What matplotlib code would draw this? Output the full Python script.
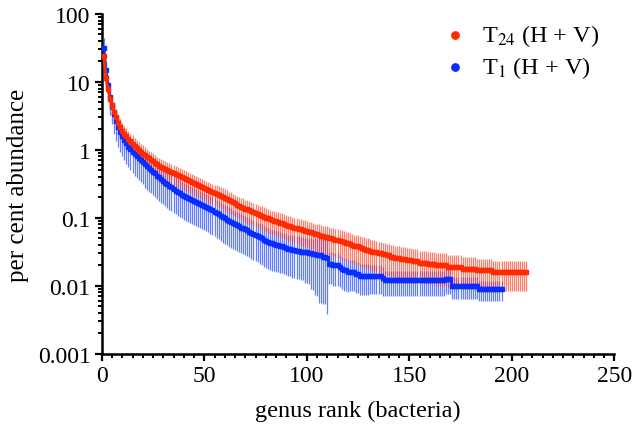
import numpy as np
import matplotlib
matplotlib.use("Agg")
import matplotlib.pyplot as plt
from matplotlib.ticker import MultipleLocator, LogLocator, NullFormatter

plt.rcParams['font.family'] = ['Liberation Serif', 'DejaVu Serif']
plt.rcParams['mathtext.fontset'] = 'stix'

# per cent abundance by genus rank, T24 (H + V)
red_vals = [
    24, 11.5, 8.0, 5.6, 4.5, 3.6, 3.0, 2.5, 2.15, 1.9,
    1.72, 1.58, 1.45, 1.34, 1.24, 1.15, 1.07, 1.0, 0.94, 0.88,
    0.83, 0.79, 0.75, 0.71, 0.68, 0.645, 0.615, 0.585, 0.56, 0.54,
    0.52, 0.50, 0.485, 0.47, 0.455, 0.44, 0.425, 0.41, 0.395, 0.38,
    0.37, 0.357, 0.345, 0.333, 0.322, 0.311, 0.30, 0.29, 0.281, 0.272,
    0.263, 0.255, 0.247, 0.239, 0.231, 0.224, 0.217, 0.21, 0.203, 0.197,
    0.188, 0.181, 0.175, 0.169, 0.163, 0.157, 0.152, 0.147, 0.142, 0.137,
    0.133, 0.129, 0.125, 0.121, 0.117, 0.113, 0.11, 0.107, 0.104, 0.101,
    0.098, 0.095, 0.093, 0.091, 0.089, 0.087, 0.085, 0.083, 0.081, 0.079,
    0.077, 0.075, 0.073, 0.071, 0.07, 0.069, 0.068, 0.066, 0.065, 0.064,
    0.062, 0.061, 0.06, 0.058, 0.057, 0.056, 0.055, 0.054, 0.053, 0.052,
    0.051, 0.05, 0.049, 0.048, 0.047, 0.046, 0.045, 0.044, 0.043, 0.042,
    0.041, 0.04, 0.039, 0.038, 0.038, 0.037, 0.036, 0.035, 0.034, 0.034,
    0.033, 0.032, 0.032, 0.031, 0.03, 0.03, 0.029, 0.029, 0.028, 0.028,
    0.027, 0.027, 0.026, 0.026, 0.026, 0.025, 0.025, 0.025, 0.024, 0.024,
    0.024, 0.023, 0.023, 0.023, 0.022, 0.022, 0.022, 0.022, 0.021, 0.021,
    0.021, 0.021, 0.02, 0.02, 0.02, 0.02, 0.02, 0.02, 0.019, 0.019,
    0.019, 0.019, 0.019, 0.019, 0.019, 0.018, 0.018, 0.018, 0.018, 0.018,
    0.018, 0.018, 0.017, 0.017, 0.017, 0.017, 0.017, 0.017, 0.017, 0.017,
    0.016, 0.016, 0.016, 0.016, 0.016, 0.016, 0.016, 0.016, 0.016, 0.016,
    0.016, 0.016, 0.016, 0.016, 0.016, 0.016, 0.016,
]
# error bar size, per cent of the value
red_err_pct = [
    30, 25, 28, 30, 30, 32, 30, 30, 32, 30,
    30, 32, 30, 30, 32, 30, 30, 30, 32, 32,
    32, 30, 30, 32, 32, 30, 30, 32, 32, 30,
    30, 32, 32, 30, 30, 32, 32, 30, 32, 32,
    32, 32, 33, 33, 32, 32, 33, 33, 33, 33,
    33, 34, 34, 33, 33, 34, 34, 34, 34, 35,
    35, 35, 35, 34, 34, 35, 35, 35, 36, 36,
    36, 36, 36, 37, 37, 37, 37, 38, 38, 38,
    38, 38, 38, 38, 39, 39, 39, 40, 40, 40,
    40, 40, 40, 40, 41, 41, 41, 41, 42, 42,
    42, 42, 42, 42, 43, 43, 43, 43, 44, 44,
    44, 44, 44, 45, 45, 45, 45, 46, 46, 46,
    46, 46, 46, 47, 47, 47, 47, 47, 48, 48,
    48, 48, 48, 48, 48, 48, 49, 49, 49, 49,
    49, 49, 49, 50, 50, 50, 50, 50, 50, 50,
    50, 50, 50, 50, 50, 50, 50, 50, 50, 50,
    50, 50, 50, 50, 50, 50, 50, 50, 50, 50,
    50, 50, 50, 50, 50, 50, 50, 50, 50, 50,
    48, 48, 48, 48, 48, 48, 48, 48, 48, 48,
    47, 47, 47, 47, 47, 47, 47, 47, 47, 47,
    47, 47, 47, 47, 47, 47, 47,
]

# T1 (H + V)
blue_vals = [
    32, 15, 9.0, 6.0, 4.4, 3.4, 2.7, 2.2, 1.85, 1.6,
    1.4, 1.25, 1.12, 1.02, 0.94, 0.87, 0.81, 0.75, 0.70, 0.66,
    0.62, 0.58, 0.54, 0.51, 0.48, 0.45, 0.42, 0.395, 0.37, 0.35,
    0.33, 0.31, 0.295, 0.28, 0.265, 0.25, 0.24, 0.23, 0.22, 0.21,
    0.202, 0.195, 0.188, 0.182, 0.176, 0.17, 0.165, 0.16, 0.155, 0.15,
    0.145, 0.14, 0.135, 0.13, 0.124, 0.118, 0.113, 0.108, 0.103, 0.098,
    0.094, 0.09, 0.087, 0.084, 0.081, 0.078, 0.075, 0.072, 0.07, 0.068,
    0.066, 0.063, 0.06, 0.058, 0.056, 0.054, 0.052, 0.05, 0.048, 0.046,
    0.044, 0.043, 0.042, 0.041, 0.04, 0.04, 0.039, 0.038, 0.037, 0.036,
    0.035, 0.035, 0.034, 0.034, 0.033, 0.033, 0.032, 0.032, 0.031, 0.031,
    0.03, 0.03, 0.029, 0.029, 0.028, 0.028, 0.028, 0.027, 0.027, 0.026,
    0.021, 0.021, 0.020, 0.020, 0.020, 0.019, 0.018, 0.017, 0.017, 0.016,
    0.016, 0.016, 0.016, 0.015, 0.015, 0.014, 0.014, 0.014, 0.014, 0.014,
    0.014, 0.014, 0.014, 0.014, 0.014, 0.014, 0.013, 0.012, 0.012, 0.012,
    0.012, 0.012, 0.012, 0.012, 0.012, 0.012, 0.012, 0.012, 0.012, 0.012,
    0.012, 0.012, 0.012, 0.012, 0.012, 0.012, 0.012, 0.012, 0.012, 0.012,
    0.012, 0.012, 0.012, 0.012, 0.012, 0.012, 0.012, 0.0125, 0.0125, 0.0125,
    0.0099, 0.0099, 0.0099, 0.0099, 0.0099, 0.0099, 0.0099, 0.0099, 0.0099, 0.0099,
    0.0099, 0.0099, 0.0099, 0.0089, 0.0089, 0.0089, 0.0089, 0.0089, 0.0089, 0.0089,
    0.0089, 0.0089, 0.0089, 0.0089, 0.0089,
]
blue_err_pct = [
    40, 35, 40, 45, 45, 50, 50, 50, 50, 50,
    50, 50, 50, 50, 52, 52, 52, 52, 52, 52,
    55, 55, 55, 55, 55, 55, 55, 55, 55, 55,
    55, 55, 55, 55, 55, 55, 55, 55, 55, 55,
    55, 55, 55, 55, 55, 56, 56, 56, 56, 56,
    56, 56, 57, 57, 57, 57, 57, 58, 58, 58,
    58, 58, 58, 58, 58, 58, 58, 58, 58, 58,
    58, 58, 58, 58, 58, 58, 60, 60, 60, 60,
    60, 60, 60, 60, 60, 60, 60, 60, 60, 60,
    60, 60, 62, 62, 62, 62, 62, 62, 64, 64,
    65, 70, 70, 75, 75, 80, 80, 80, 80, 85,
    50, 50, 50, 50, 50, 50, 50, 50, 50, 50,
    48, 48, 48, 48, 48, 48, 48, 48, 48, 48,
    45, 45, 45, 45, 45, 45, 45, 40, 40, 40,
    40, 40, 40, 40, 40, 40, 40, 40, 40, 40,
    40, 40, 40, 40, 40, 40, 40, 40, 40, 40,
    40, 40, 40, 40, 40, 40, 40, 40, 40, 40,
    35, 35, 35, 35, 35, 35, 35, 35, 35, 35,
    35, 35, 35, 32, 32, 32, 32, 32, 32, 32,
    32, 32, 32, 32, 32,
]

red_vals = np.array(red_vals)
blue_vals = np.array(blue_vals)
red_rank = np.arange(1, len(red_vals) + 1)
blue_rank = np.arange(1, len(blue_vals) + 1)
red_err = red_vals * np.array(red_err_pct) / 100
blue_err = blue_vals * np.array(blue_err_pct) / 100

fig = plt.figure(figsize=(6.32, 4.27), dpi=100)
ax = fig.add_axes([0.161, 0.169, 0.811, 0.796])

# error bars first, then the lines on top
ax.errorbar(blue_rank, blue_vals, yerr=blue_err, fmt='none', ecolor='#1f46ff',
            elinewidth=0.9, alpha=0.7, capsize=0, zorder=1)
ax.errorbar(red_rank, red_vals, yerr=red_err, fmt='none', ecolor='#ff3b1f',
            elinewidth=0.9, alpha=0.65, capsize=0, zorder=2)
ax.plot(blue_rank, blue_vals, color='#0a2cff', marker='s', ms=2.5, lw=2, zorder=3)
ax.plot(red_rank, red_vals, color='#ff2a00', marker='s', ms=2.5, lw=2, zorder=4)

ax.set_yscale('log')
ax.set_ylim(0.001, 100)
ax.set_xlim(0, 250)
ax.set_yticks([0.001, 0.01, 0.1, 1, 10, 100])
ax.set_yticklabels(['0.001', '0.01', '0.1', '1', '10', '100'])
ax.yaxis.set_minor_locator(LogLocator(base=10, subs=np.arange(2, 10)))
ax.yaxis.set_minor_formatter(NullFormatter())
ax.xaxis.set_major_locator(MultipleLocator(50))
ax.xaxis.set_minor_locator(MultipleLocator(5))

for side in ['top', 'right']:
    ax.spines[side].set_visible(False)
for side in ['left', 'bottom']:
    ax.spines[side].set_linewidth(1.8)
ax.tick_params(which='major', direction='out', length=5, width=1.6, labelsize=17, pad=3)
ax.tick_params(which='minor', direction='out', length=3, width=1.4)

ax.set_xlabel('genus rank (bacteria)', fontsize=17.5, labelpad=10)
ax.set_ylabel('per cent abundance', fontsize=18, labelpad=6)

h1 = ax.scatter([], [], color='#ff2a00', s=28)
h2 = ax.scatter([], [], color='#0a2cff', s=28)
ax.legend([h1, h2], ['T$_{24}$ (H + V)', 'T$_{1}$ (H + V)'], loc='upper left',
          bbox_to_anchor=(0.60, 1.04), frameon=False, fontsize=17.5,
          handletextpad=0.1, labelspacing=0.25)

fig.savefig('out.png', dpi=100)
